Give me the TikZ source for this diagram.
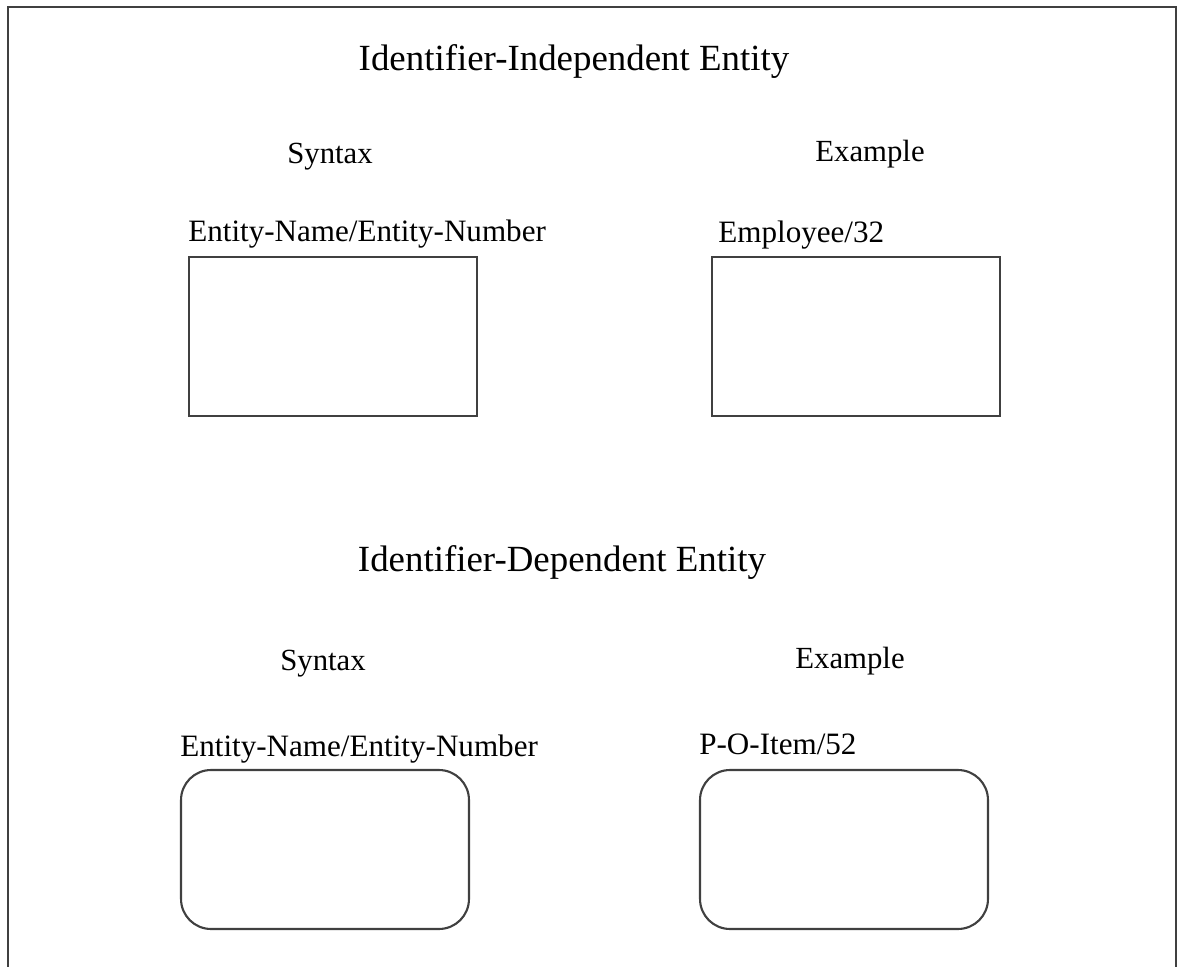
\documentclass[tikz,border=0pt]{standalone}
\usepackage{fontspec}
\setmainfont{Liberation Serif}
\usetikzlibrary{positioning}
\tikzset{
  entbox/.style={draw, line width=1.2pt, minimum width=5.76cm, minimum height=3.18cm, inner sep=0pt, black!75},
  depbox/.style={entbox, rounded corners=0.6cm},
  heading/.style={font=\fontsize{21}{25}\selectfont},
  colhead/.style={font=\fontsize{17.5}{21}\selectfont},
  entlabel/.style={font=\fontsize{17.7}{21}\selectfont, inner sep=0pt, anchor=base west},
}
\begin{document}
\begin{tikzpicture}[x=0.02cm, y=-0.02cm]
            \useasboundingbox (0,0) rectangle (1177,967);

            % Frame (open at the bottom)
            \draw[line width=1.2pt, black!75] (8,967) -- (8,7) -- (1176,7) -- (1176,967);

            % Independent entities
            \node[heading] (indtitle) at (574,61) {Identifier-Independent Entity};
            \node[colhead] (indsyn) at (330,157) {Syntax};
            \node[colhead] (index) at (870,154) {Example};
            \node[entbox] (indbox) at (333,336.5) {};
            \node[entbox] (empbox) at (856,336.5) {};
            \node[entlabel] (indname) at ([yshift=8pt]indbox.north west) {Entity-Name/Entity-Number};
            \node[entlabel] (empname) at ([xshift=4pt,yshift=7.5pt]empbox.north west) {Employee/32};

            % Dependent entities
            \node[heading] (deptitle) at (562,562) {Identifier-Dependent Entity};
            \node[colhead] (depsyn) at (323,664) {Syntax};
            \node[colhead] (depex) at (850,661) {Example};
            \node[depbox] (depbox) at (325,849.5) {};
            \node[depbox] (itembox) at (844,849.5) {};
            \node[entlabel] (depname) at ([yshift=7.3pt]depbox.north west) {Entity-Name/Entity-Number};
            \node[entlabel] (itemname) at ([yshift=8.4pt]itembox.north west) {P-O-Item/52};
\end{tikzpicture}
\end{document}
